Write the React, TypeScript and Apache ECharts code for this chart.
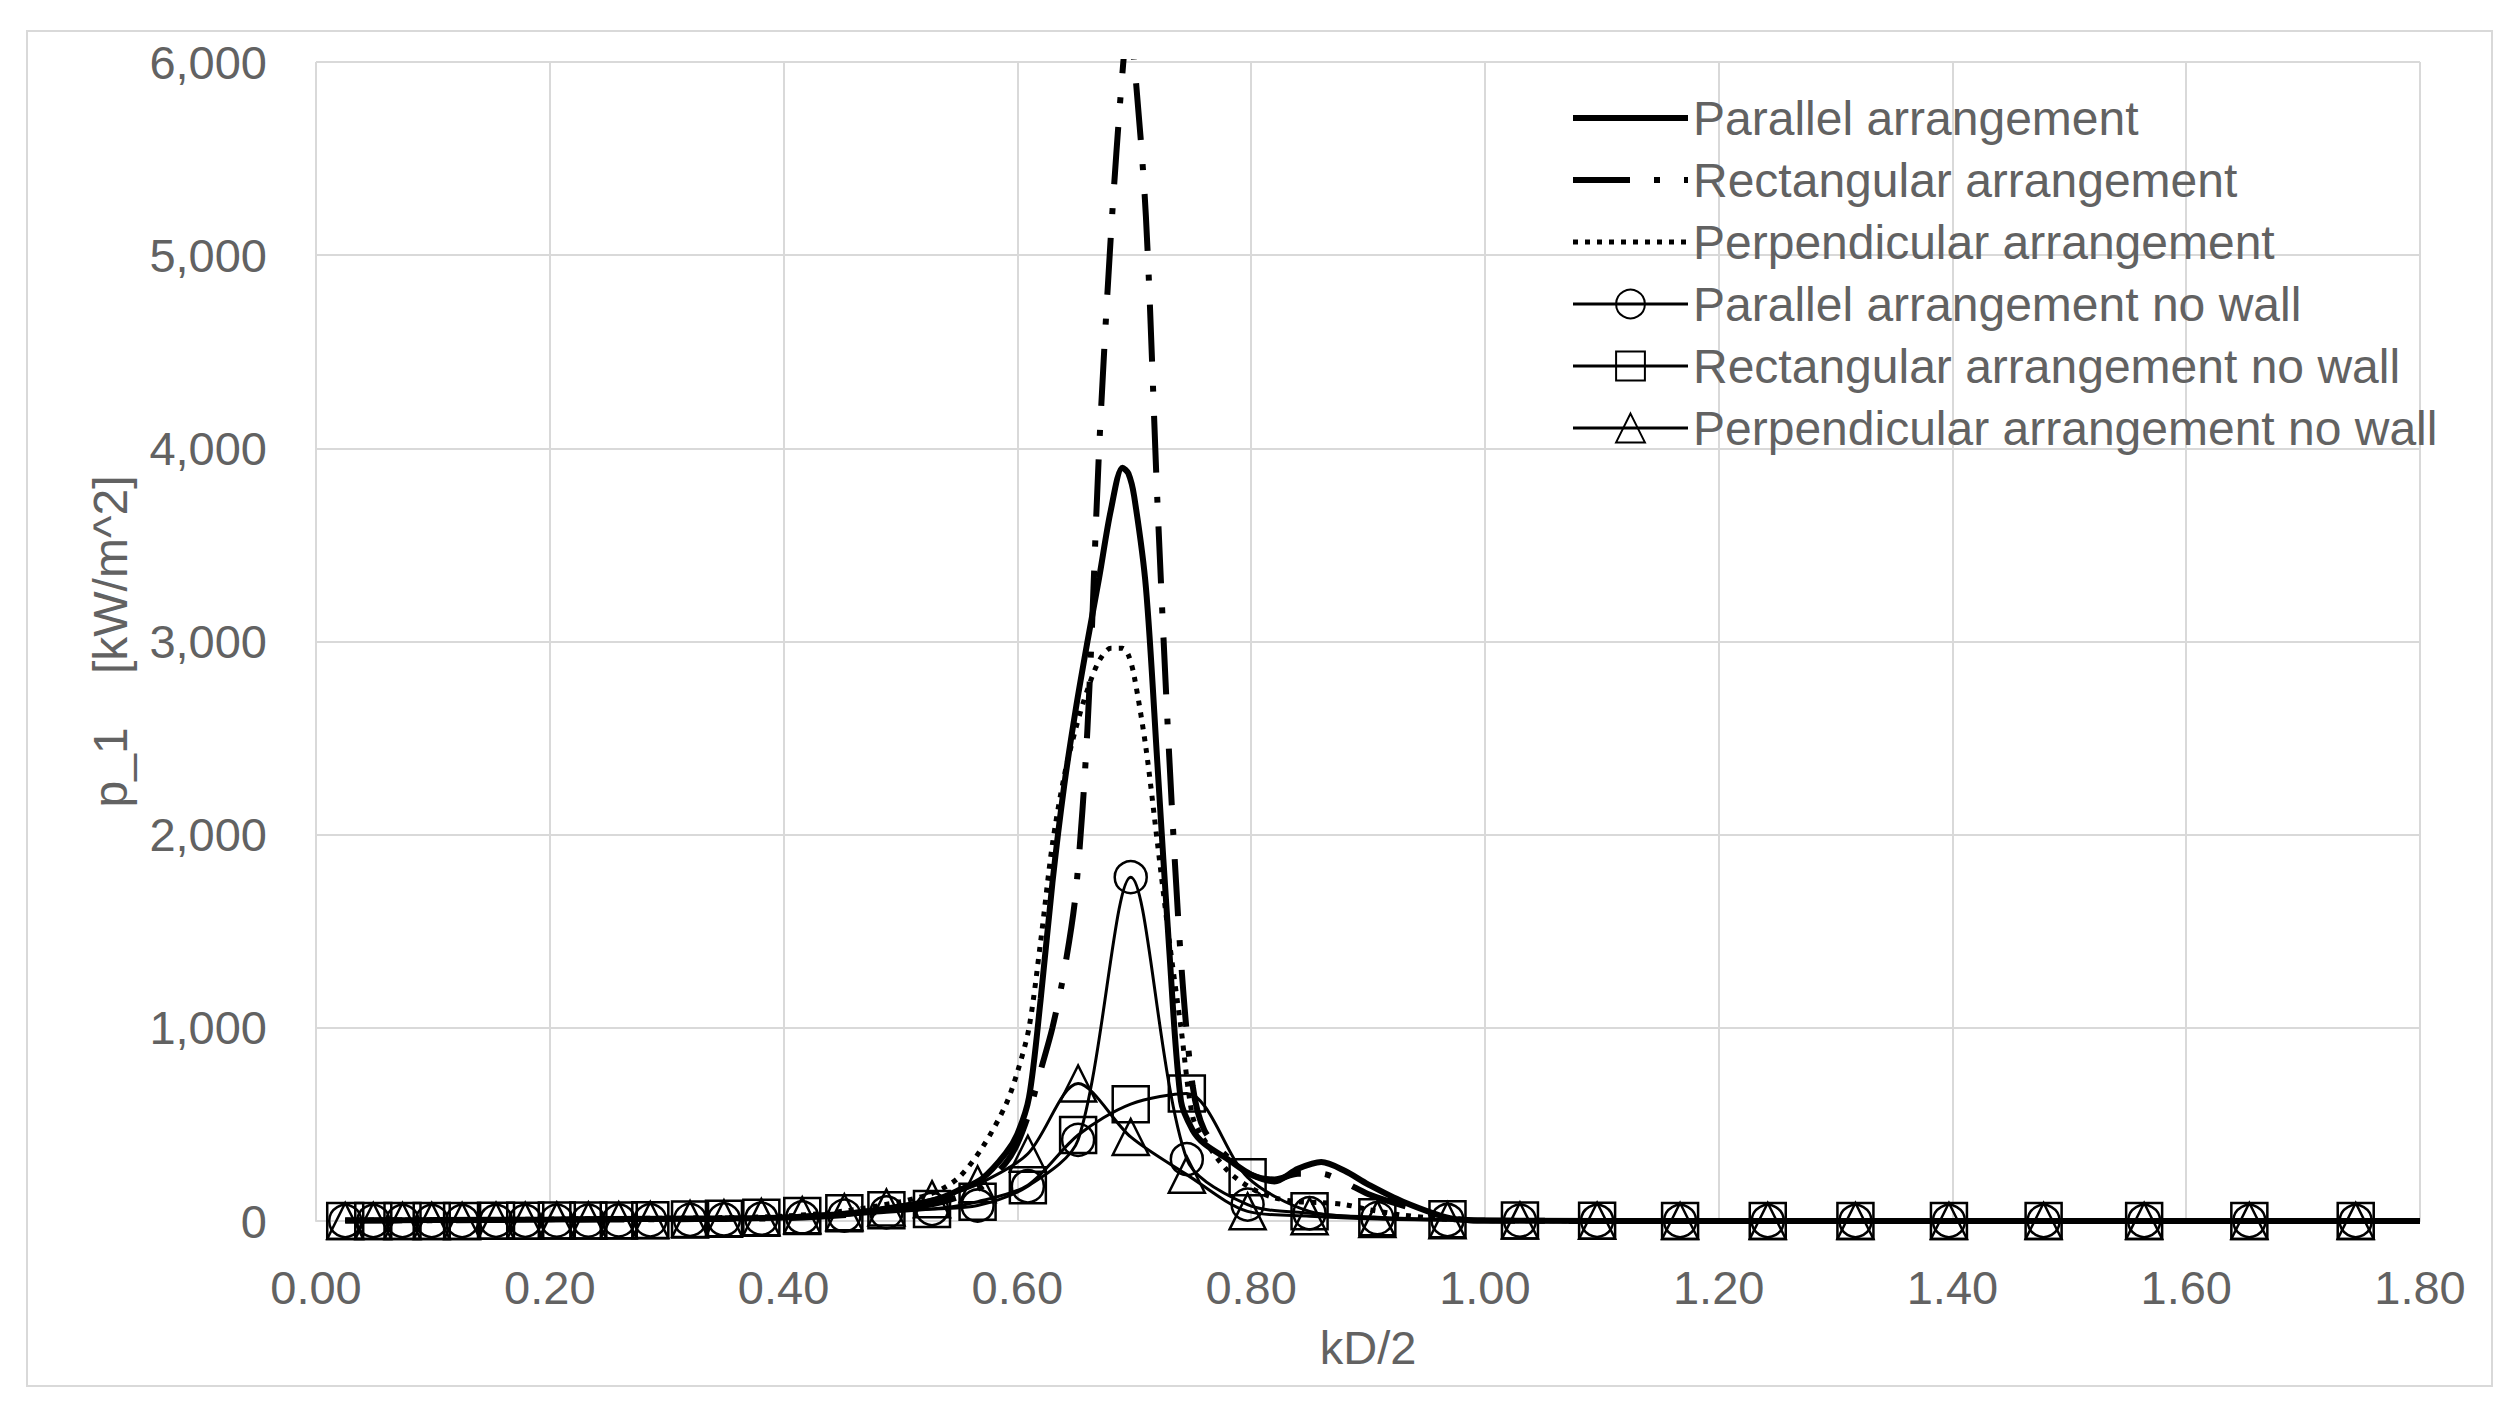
import React, { useEffect, useRef } from 'react';
import * as echarts from 'echarts';

// ---- Data ----
const seriesNames = [
  'Parallel arrangement',
  'Rectangular arrangement',
  'Perpendicular arrangement',
  'Parallel arrangement no wall',
  'Rectangular arrangement no wall',
  'Perpendicular arrangement no wall',
];

// x values (kD/2) of the curves with wall
const xWall = [0.025, 0.1, 0.2, 0.3, 0.35, 0.4, 0.45, 0.5, 0.53, 0.55, 0.57, 0.59, 0.6, 0.61, 0.62, 0.63, 0.64, 0.65, 0.66, 0.67, 0.68, 0.69, 0.695, 0.7, 0.71, 0.72, 0.73, 0.74, 0.75, 0.76, 0.78, 0.8, 0.82, 0.84, 0.86, 0.88, 0.9, 0.93, 0.97, 1.0, 1.2, 1.4, 1.6, 1.8];
const parallelWall = [3, 5, 8, 12, 14, 18, 35, 75, 110, 160, 220, 350, 450, 640, 1150, 1750, 2250, 2650, 3000, 3330, 3680, 3900, 3870, 3750, 3280, 2350, 1400, 620, 470, 400, 320, 240, 205, 270, 305, 260, 190, 100, 15, 2, 0, 0, 0, 0];
const rectangularWall = [2, 4, 6, 9, 11, 15, 30, 60, 90, 125, 180, 300, 400, 560, 780, 1000, 1290, 1700, 2550, 4000, 5100, 5950, 6200, 6000, 5200, 3700, 2400, 1350, 700, 470, 330, 240, 215, 245, 245, 200, 140, 80, 15, 2, 0, 0, 0, 0];
const perpendicularWall = [4, 6, 10, 15, 18, 25, 50, 100, 150, 226, 380, 600, 770, 1000, 1450, 1950, 2300, 2550, 2750, 2900, 2965, 2965, 2930, 2820, 2450, 1950, 1450, 1000, 540, 420, 260, 170, 120, 100, 95, 85, 60, 30, 8, 2, 0, 0, 0, 0];

// x values (kD/2) of the "no wall" curves (marker positions)
const xNoWall = [0.025, 0.049, 0.074, 0.099, 0.125, 0.154, 0.179, 0.206, 0.233, 0.259, 0.286, 0.32, 0.349, 0.381, 0.416, 0.452, 0.488, 0.527, 0.566, 0.609, 0.652, 0.697, 0.745, 0.797, 0.85, 0.908, 0.968, 1.03, 1.096, 1.167, 1.242, 1.317, 1.397, 1.478, 1.564, 1.654, 1.745];
const parallelNoWall = [0, 0, 0, 0, 0, 1, 1, 2, 2, 3, 4, 6, 8, 12, 18, 28, 45, 62, 80, 180, 420, 1780, 320, 85, 40, 15, 5, 2, 1, 0, 0, 0, 0, 0, 0, 0, 0];
const rectangularNoWall = [0, 0, 0, 0, 0, 1, 1, 2, 2, 3, 4, 8, 12, 17, 26, 40, 56, 62, 100, 185, 445, 605, 660, 226, 50, 20, 9, 3, 1, 0, 0, 0, 0, 0, 0, 0, 0];
const perpendicularNoWall = [0, 0, 0, 0, 0, 1, 1, 2, 3, 4, 5, 10, 14, 20, 30, 45, 70, 113, 190, 348, 712, 435, 240, 50, 25, 10, 4, 2, 1, 0, 0, 0, 0, 0, 0, 0, 0];

// axes
const xMin = 0;
const xMax = 1.8;
const xStep = 0.2;
const yMin = 0;
const yMax = 6000;
const yStep = 1000;
const xAxisTitle = 'kD/2';
const yAxisTitle = 'p_1    [kW/m^2]';

const zip = (xs: number[], ys: number[]) => xs.map((x, i) => [x, ys[i]]);

const FONT = 'Liberation Sans';
const TEXT = '#626262';
const GRID = '#d9d9d9';

function wallSeries(name: string, data: number[], type: any, width: number) {
  return {
    name,
    type: 'line',
    data: zip(xWall, data),
    symbol: 'none',
    smooth: 0.3,
    clip: true,
    itemStyle: { color: 'rgba(0,0,0,0)', borderWidth: 0 },
    lineStyle: { color: '#000', width, type, cap: 'butt' },
    z: 3,
  };
}

function noWallSeries(name: string, data: number[], symbol: string, size: number) {
  return {
    name,
    type: 'line',
    data: zip(xNoWall, data),
    symbol,
    symbolSize: size,
    showAllSymbol: true,
    smooth: 0.3,
    clip: true,
    itemStyle: { color: 'rgba(0,0,0,0)', borderColor: '#000', borderWidth: 2.5 },
    lineStyle: { color: '#000', width: 3 },
    z: 4,
  };
}

export default function App() {
  const ref = useRef<HTMLDivElement>(null);
  useEffect(() => {
    document.body.style.margin = '0';
    const chart = echarts.init(ref.current!, null, { renderer: 'svg' });
    const option: any = {
      animation: false,
      backgroundColor: '#ffffff',
      textStyle: { fontFamily: FONT },
      graphic: [
        {
          type: 'rect',
          shape: { x: 27, y: 31, width: 2465, height: 1355 },
          style: { fill: 'none', stroke: GRID, lineWidth: 2 },
          z: 0,
          silent: true,
        },
      ],
      grid: { left: 316, right: 99, top: 62, bottom: 194, containLabel: false },
      xAxis: {
        type: 'value',
        min: xMin,
        max: xMax,
        interval: xStep,
        name: xAxisTitle,
        nameLocation: 'middle',
        nameGap: 103,
        nameTextStyle: { fontSize: 47, color: TEXT, fontFamily: FONT },
        axisLine: { show: true, lineStyle: { color: GRID, width: 2 } },
        axisTick: { show: false },
        axisLabel: {
          fontSize: 47,
          color: TEXT,
          fontFamily: FONT,
          margin: 43,
          formatter: (v: number) => v.toFixed(2),
        },
        splitLine: { show: true, lineStyle: { color: GRID, width: 2 } },
      },
      yAxis: {
        type: 'value',
        min: yMin,
        max: yMax,
        interval: yStep,
        name: yAxisTitle,
        nameLocation: 'middle',
        nameGap: 182,
        nameRotate: 90,
        nameTextStyle: { fontSize: 48, color: TEXT, fontFamily: FONT },
        axisLine: { show: false },
        axisTick: { show: false },
        axisLabel: {
          fontSize: 47,
          color: TEXT,
          fontFamily: FONT,
          margin: 49,
          formatter: (v: number) => v.toLocaleString('en-US'),
        },
        splitLine: { show: true, lineStyle: { color: GRID, width: 2 } },
      },
      legend: {
        show: true,
        orient: 'vertical',
        left: 1570,
        top: 94,
        padding: 0,
        itemWidth: 115,
        itemHeight: 36,
        itemGap: 14,
        data: seriesNames,
        textStyle: { fontSize: 48, color: TEXT, fontFamily: FONT, lineHeight: 46 },
        lineStyle: { width: 'inherit' },
        selectedMode: false,
      },
      series: [
        wallSeries(seriesNames[0], parallelWall, 'solid', 6),
        wallSeries(seriesNames[1], rectangularWall, [57, 24, 6, 24], 6),
        wallSeries(seriesNames[2], perpendicularWall, [5, 7], 5),
        noWallSeries(seriesNames[3], parallelNoWall, 'circle', 32),
        noWallSeries(seriesNames[4], rectangularNoWall, 'rect', 36),
        noWallSeries(seriesNames[5], perpendicularNoWall, 'triangle', 36),
      ],
    };
    chart.setOption(option);
    return () => chart.dispose();
  }, []);
  return <div ref={ref} style={{ width: 2519, height: 1415, background: '#fff' }} />;
}
